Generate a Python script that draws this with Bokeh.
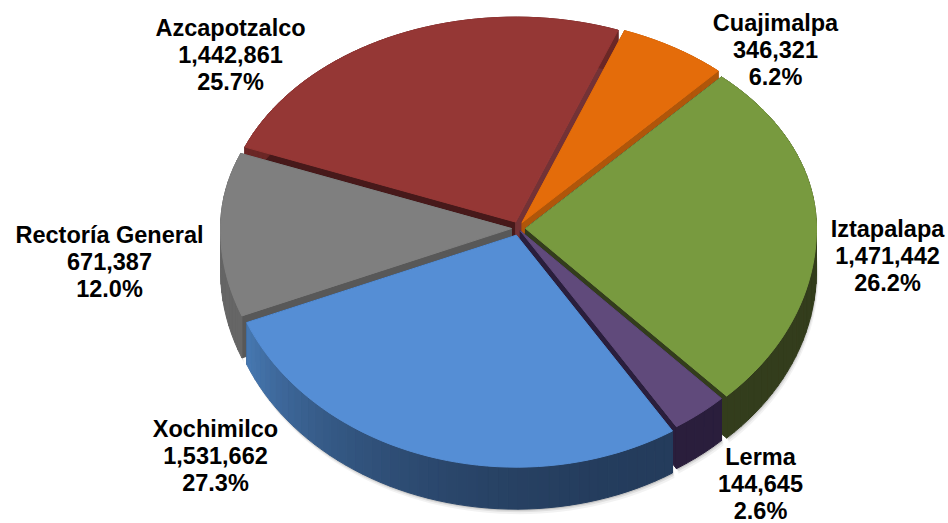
import math
from bokeh.plotting import figure
from bokeh.models import ColumnDataSource, Range1d
from bokeh.core.properties import value
from bokeh.embed import file_html
from bokeh.resources import INLINE

names = ["Cuajimalpa", "Iztapalapa", "Lerma", "Xochimilco", "Rectoría General", "Azcapotzalco"]
amounts = [346321, 1471442, 144645, 1531662, 671387, 1442861]
percents = ["6.2%", "26.2%", "2.6%", "27.3%", "12.0%", "25.7%"]
top_colors = ["#E46C0A", "#789A3F", "#604A7B", "#558ED5", "#7F7F7F", "#953735"]
rim_colors = ["#B0560A", "#333D1C", "#2A1E3C", "#254061", "#666666", "#6B2726"]
start_walls = ["#B0560A", "#2A1E3C", "#2A1E3C", "#254061", "#585858", "#47191A"]
end_walls = ["#B0560A", "#333D1C", "#2A1E3C", "#254061", "#585858", "#733236"]
label_x = [775, 887, 760, 215, 109, 230]
label_y = [22, 228, 456, 428, 234, 27]
explode = [7, 7, 3, 7, 7, 7]
paint_order = [5, 0, 4, 1, 2, 3]
# small perspective corrections of the slice boundaries, in degrees
view_warp = [-1, -1.5, -2, 0, 2, 2.5, -1]

CX, CY, RX, RY_TOP, RY_BOT, DEPTH, START = 518, 228, 291, 205, 232, 42, 21.6
total = sum(amounts)


def rim(t_deg, ox, oy, drop=0):
    t = math.radians(t_deg)
    c = math.cos(t)
    return CX + ox + RX * math.sin(t), CY + oy - (RY_TOP if c > 0 else RY_BOT) * c + drop


def mix(a, b, f):
    return "#%02X%02X%02X" % tuple(round(a[i] + (b[i] - a[i]) * f) for i in range(3))


xs, ys, fills = [], [], []
sx, sy, sa = [], [], []


def add(poly, color):
    xs.append([q[0] for q in poly])
    ys.append([q[1] for q in poly])
    fills.append(color)


bounds = [START]
for v in amounts:
    bounds.append(bounds[-1] + 360 * v / total)
bounds = [b + w for b, w in zip(bounds, view_warp)]
spans = list(zip(bounds[:-1], bounds[1:]))


def slice_geom(i):
    a, b = spans[i]
    m = math.radians((a + b) / 2)
    ox, oy = explode[i] * math.sin(m), -explode[i] * math.cos(m)
    n = max(4, int((b - a) / 2))
    ts = [a + (b - a) * k / n for k in range(n + 1)]
    return ox, oy, ts


# soft shadow under the front rim
for sh, al in ((5, 0.05), (3, 0.08), (1.5, 0.12)):
    for i in range(6):
        ox, oy, ts = slice_geom(i)
        bottom = [rim(t, ox + sh * 0.4, oy + sh, DEPTH) for t in ts]
        top = [rim(t, ox, oy, 0) for t in ts]
        poly = top + bottom[::-1]
        sx.append([q[0] for q in poly])
        sy.append([q[1] for q in poly])
        sa.append(al)

for i in paint_order:
    ox, oy, ts = slice_geom(i)
    apex = (CX + ox, CY + oy)
    apex_low = (apex[0], apex[1] + DEPTH)
    a_pt, b_pt = rim(ts[0], ox, oy), rim(ts[-1], ox, oy)
    add([apex, a_pt, rim(ts[0], ox, oy, DEPTH), apex_low], start_walls[i])
    add([apex, b_pt, rim(ts[-1], ox, oy, DEPTH), apex_low], end_walls[i])
    for k in range(len(ts) - 1):
        q = [rim(ts[k], ox, oy), rim(ts[k + 1], ox, oy), rim(ts[k + 1], ox, oy, DEPTH), rim(ts[k], ox, oy, DEPTH)]
        if names[i] == "Xochimilco":
            f = (ts[k] - ts[0]) / (ts[-1] - ts[0])
            col = mix((36, 60, 92), (72, 122, 180), min(1, f ** 2.2))
        else:
            col = rim_colors[i]
        add(q, col)
    add([apex] + [rim(t, ox, oy) for t in ts], top_colors[i])

p = figure(width=948, height=523, output_backend="svg", toolbar_location=None,
           x_range=Range1d(0, 948), y_range=Range1d(523, 0), min_border=0,
           outline_line_color=None, background_fill_color="white")
p.axis.visible = False
p.grid.visible = False

p.patches("xs", "ys", source=ColumnDataSource(dict(xs=sx, ys=sy, alpha=sa)),
          fill_color="#000000", fill_alpha="alpha", line_color=None)
p.patches("xs", "ys", source=ColumnDataSource(dict(xs=xs, ys=ys, fill=fills)),
          fill_color="fill", line_color="fill", line_width=1)

tx, ty, tt = [], [], []
for i, n in enumerate(names):
    lines = [n, f"{amounts[i]:,}", percents[i]]
    for k, s in enumerate(lines):
        tx.append(label_x[i])
        ty.append(label_y[i] + k * 27.2)
        tt.append(s)
p.text(x="x", y="y", text="t", source=ColumnDataSource(dict(x=tx, y=ty, t=tt)),
       text_font=value("Liberation Sans"), text_font_style="bold", text_font_size="23.5px",
       text_color="#000000", text_align="center", text_baseline="middle")

open("out.html", "w").write(file_html(p, INLINE))
